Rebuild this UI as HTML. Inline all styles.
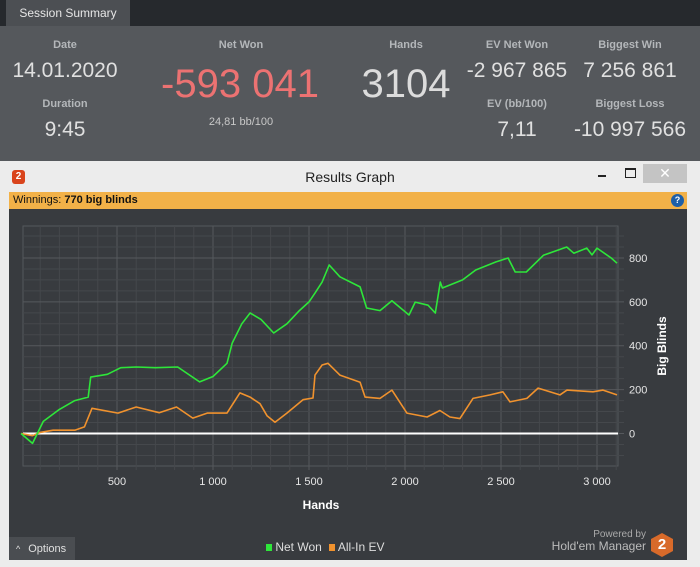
<!DOCTYPE html>
<html><head><meta charset="utf-8"><style>
body{margin:0;width:700px;height:567px;overflow:hidden;background:#26292d;font-family:"Liberation Sans",sans-serif;position:relative}
.a{position:absolute}
.lbl{color:#b4b7ba;font-size:11px;font-weight:bold;text-align:center;width:120px}
.val{color:#e0e0e0;font-size:21px;text-align:center;width:140px}
</style></head><body>
<div class="a" style="left:6px;top:0;width:124px;height:26px;background:#4c4f53;color:#e6e6e6;font-size:12px;line-height:26px;text-align:center">Session Summary</div>
<div class="a" style="left:0;top:26px;width:700px;height:136px;background:#55585c">
 <div class="a lbl" style="left:5px;top:13px">Date</div>
 <div class="a val" style="left:-5px;top:33px">14.01.2020</div>
 <div class="a lbl" style="left:5px;top:72px">Duration</div>
 <div class="a val" style="left:-5px;top:92px">9:45</div>
 <div class="a lbl" style="left:181px;top:13px">Net Won</div>
 <div class="a" style="left:140px;top:36px;width:200px;text-align:center;color:#ec7272;font-size:40px">-593 041</div>
 <div class="a" style="left:181px;top:90px;width:120px;text-align:center;color:#c8c8c8;font-size:11px">24,81 bb/100</div>
 <div class="a lbl" style="left:346px;top:13px">Hands</div>
 <div class="a" style="left:326px;top:36px;width:160px;text-align:center;color:#dcdcdc;font-size:40px">3104</div>
 <div class="a lbl" style="left:457px;top:13px">EV Net Won</div>
 <div class="a val" style="left:447px;top:33px">-2 967 865</div>
 <div class="a lbl" style="left:457px;top:72px">EV (bb/100)</div>
 <div class="a val" style="left:447px;top:92px">7,11</div>
 <div class="a lbl" style="left:570px;top:13px">Biggest Win</div>
 <div class="a val" style="left:560px;top:33px">7 256 861</div>
 <div class="a lbl" style="left:570px;top:72px">Biggest Loss</div>
 <div class="a val" style="left:560px;top:92px">-10 997 566</div>
</div>
<div class="a" style="left:0;top:161px;width:700px;height:406px;background:#ececec">
 <div class="a" style="left:12px;top:9px;width:13px;height:14px;background:#d9441c;border-radius:3px;color:#fff;font-size:10px;font-weight:bold;text-align:center;line-height:14px">2</div>
 <div class="a" style="left:250px;top:8px;width:200px;text-align:center;color:#222;font-size:14px">Results Graph</div>
 <div class="a" style="left:598px;top:14px;width:8px;height:2px;background:#222"></div>
 <div class="a" style="left:625px;top:7px;width:9px;height:7px;border:1px solid #222;border-top-width:2px"></div>
 <div class="a" style="left:643px;top:3px;width:44px;height:19px;background:#c4c4c4;color:#fff;text-align:center;font-size:14px;line-height:19px">✕</div>
 <div class="a" style="left:9px;top:31px;width:678px;height:17px;background:#f2b148;font-size:11px;line-height:17px;color:#111"><span style="padding-left:4px">Winnings: <b>770 big blinds</b></span>
  <div class="a" style="right:3px;top:2px;width:13px;height:13px;border-radius:50%;background:#1d5fa8;color:#fff;font-size:9px;font-weight:bold;text-align:center;line-height:13px">?</div></div>
 <div class="a" style="left:9px;top:48px;width:678px;height:351px;background:#383b3f"></div>
</div>
<svg class="a" style="left:0;top:0" width="700" height="567" id="chart"></svg>
<div class="a" style="left:9px;top:537px;width:66px;height:23px;background:#4a4d51;color:#e0e0e0;font-size:11px;line-height:24px"><span style="padding-left:7px;font-size:9px">^</span><span style="padding-left:8px">Options</span></div>
<div class="a" style="left:266px;top:540px;font-size:12px;color:#ddd">
 <span><span style="display:inline-block;width:6px;height:7px;background:#2ee63a"></span> Net Won</span>
 <span style="margin-left:4px"><span style="display:inline-block;width:6px;height:7px;background:#f0922e"></span> All-In EV</span>
</div>
<div class="a" style="left:540px;top:529px;width:106px;text-align:right;color:#aaa;font-size:10px">Powered by</div>
<div class="a" style="left:530px;top:539px;width:116px;text-align:right;color:#bbb;font-size:12px">Hold'em Manager</div>
<div class="a" style="left:651px;top:533px;width:22px;height:24px;background:#d86a2a;clip-path:polygon(50% 0,100% 25%,100% 75%,50% 100%,0 75%,0 25%);color:#fff;font-weight:bold;font-size:15px;text-align:center;line-height:24px">2</div>
<script>
const netHands=[0,60,116,200,280,350,363,450,520,600,700,816,930,1000,1073,1100,1150,1193,1250,1316,1385,1450,1500,1531,1568,1605,1661,1766,1800,1870,1932,2021,2053,2120,2158,2184,2195,2300,2368,2474,2537,2574,2632,2721,2842,2879,2947,2974,3000,3074,3104];
const netVals=[0,-45,55,110,150,166,257,270,300,303,300,303,235,260,320,412,500,549,520,458,500,560,600,640,690,768,714,668,572,560,605,540,599,585,549,690,663,700,745,782,800,736,736,812,850,822,845,814,845,800,776];
const evHands=[0,60,100,167,280,330,370,505,600,720,810,895,970,1073,1140,1193,1245,1281,1323,1385,1469,1521,1531,1568,1599,1661,1766,1792,1870,1932,2010,2115,2182,2234,2286,2354,2443,2510,2547,2635,2693,2807,2844,2979,3031,3104];
const evVals=[0,-10,5,15,15,30,115,93,121,95,121,70,93,93,185,166,136,81,51,93,154,162,266,312,320,266,234,166,160,198,93,75,105,75,68,160,176,190,144,160,207,176,198,190,198,176];
const xTicks=[500,1000,1500,2000,2500,3000];
const xTickLabels=["500","1 000","1 500","2 000","2 500","3 000"];
const yTicks=[0,200,400,600,800];
const yTickLabels=["0","200","400","600","800"];
const NS="http://www.w3.org/2000/svg";
const svg=document.getElementById('chart');
const L=23,R=618,T=226,B=466;
const X=h=>21+h*0.192;
const Y=v=>433.5-v*0.2194;
function mk(t,a){const e=document.createElementNS(NS,t);for(const k in a)e.setAttribute(k,a[k]);svg.appendChild(e);return e;}
const frame=mk('rect',{x:L,y:T,width:R-L,height:B-T,fill:'none',stroke:'#55585c'});


for(let h=100;h<=3100;h+=100){const x=X(h);if(x>R)break;const g=mk('line',{x1:x,x2:x,y1:T,y2:B+4,stroke:h%500?'#45484c':'#56595d','stroke-width':1});

}
for(let v=-100;v<=900;v+=50){const y=Y(v);if(y<T||y>B)continue;const g=mk('line',{x1:L,x2:R+6,y1:y,y2:y,stroke:v%200?'#45484c':'#56595d','stroke-width':1});

}
xTicks.forEach((h,i)=>{const t=mk('text',{x:X(h),y:485,fill:'#e6e6e6','font-size':11,'text-anchor':'middle','font-family':'Liberation Sans'});t.textContent=xTickLabels[i];

});
yTicks.forEach((v,i)=>{const t=mk('text',{x:629,y:Y(v)+4,fill:'#e6e6e6','font-size':11,'font-family':'Liberation Sans'});t.textContent=yTickLabels[i];

});
const xt=mk('text',{x:321,y:509,fill:'#fff','font-size':12,'font-weight':'bold','text-anchor':'middle','font-family':'Liberation Sans'});xt.textContent='Hands';


const yt=mk('text',{x:0,y:0,fill:'#fff','font-size':12,'font-weight':'bold','text-anchor':'middle','font-family':'Liberation Sans',transform:'translate(666,346) rotate(-90)'});yt.textContent='Big Blinds';


const z=mk('line',{x1:L,x2:R,y1:Y(0),y2:Y(0),stroke:'#fff','stroke-width':2});


function path(hs,vs,c,name){const d=hs.map((h,i)=>(i?'L':'M')+X(h).toFixed(1)+','+Y(vs[i]).toFixed(1)).join('');const p=mk('path',{d:d,fill:'none',stroke:c,'stroke-width':1.6,'stroke-linejoin':'round'});

}
path(evHands,evVals,'#f0922e','all-in-ev-line');
path(netHands,netVals,'#2ee63a','net-won-line');
</script>
</body></html>
